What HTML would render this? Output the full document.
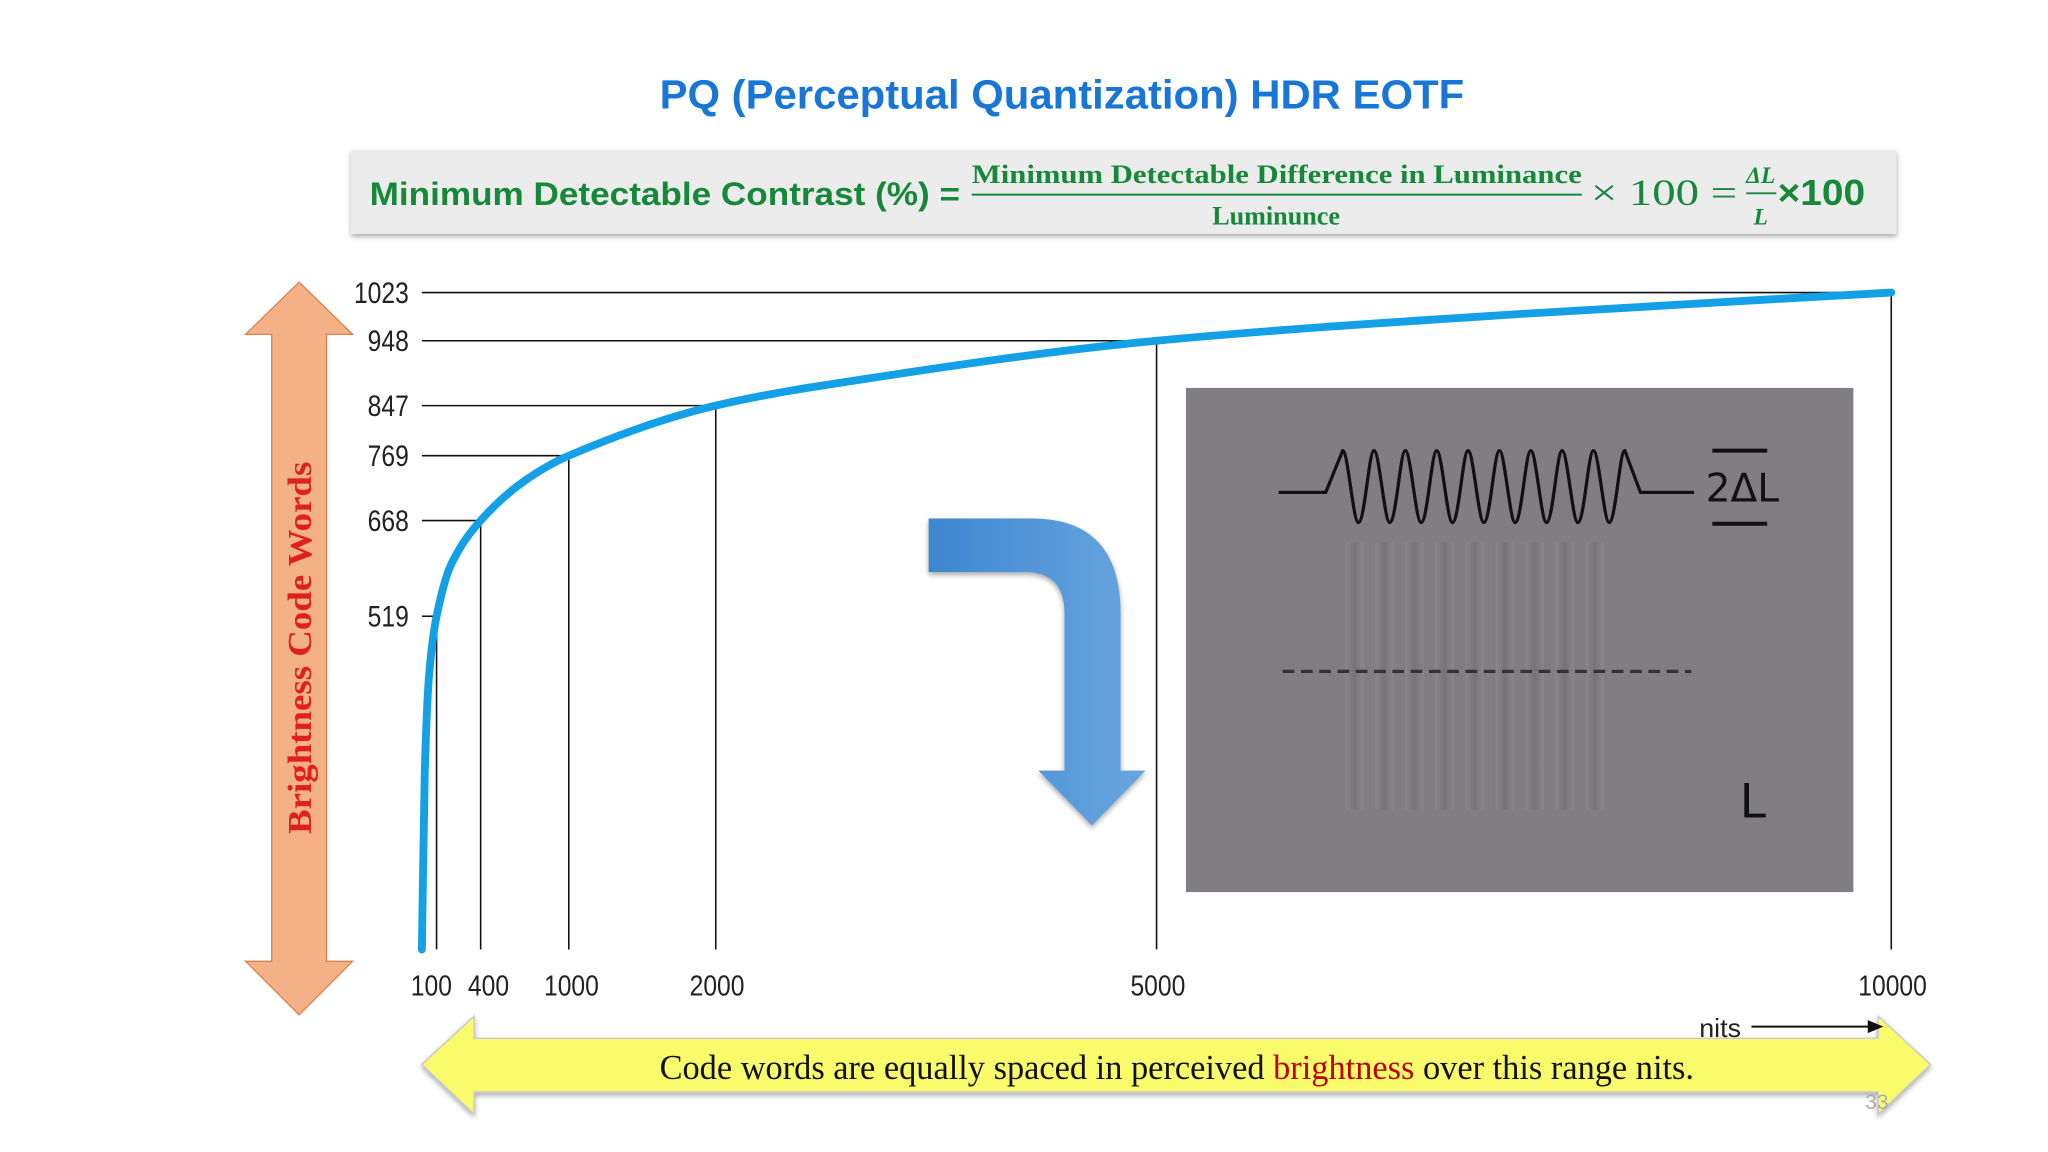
<!DOCTYPE html>
<html><head><meta charset="utf-8"><style>
html,body{margin:0;padding:0;background:#fff;}
svg{display:block;}
</style></head><body>
<svg id="chart" width="2048" height="1152" viewBox="0 0 2048 1152" xmlns="http://www.w3.org/2000/svg">
<defs>
<linearGradient id="blueG" x1="0" x2="1" y1="0" y2="0"><stop offset="0" stop-color="#3d87cf"/><stop offset="1" stop-color="#6aa6e0"/></linearGradient>
<filter id="sh" x="-5%" y="-20%" width="110%" height="150%"><feDropShadow dx="0" dy="2" stdDeviation="2" flood-color="#000" flood-opacity="0.35"/></filter>
<linearGradient id="stripe" x1="0" x2="1"><stop offset="0" stop-color="#8a888c"/><stop offset="0.5" stop-color="#747276"/><stop offset="1" stop-color="#8a888c"/></linearGradient>
</defs>
<g transform="scale(1.30612)" id="root">
<text x="505" y="83" textLength="616" lengthAdjust="spacingAndGlyphs" font-family="Liberation Sans, sans-serif" font-weight="bold" font-size="31" fill="#1877d6">PQ (Perceptual Quantization) HDR EOTF</text>
<g>
<rect x="269" y="115" width="1183" height="64" fill="#ececec" filter="url(#sh)"/>
<text x="283" y="157" textLength="452" lengthAdjust="spacingAndGlyphs" font-family="Liberation Sans, sans-serif" font-weight="bold" font-size="25" fill="#16883a">Minimum Detectable Contrast (%) =</text>
<text x="744" y="140" textLength="467" lengthAdjust="spacingAndGlyphs" font-family="Liberation Serif, serif" font-weight="bold" font-size="20" fill="#16883a">Minimum Detectable Difference in Luminance</text>
<line x1="744" y1="149" x2="1211" y2="149" stroke="#16883a" stroke-width="1.5"/>
<text x="977" y="172" text-anchor="middle" font-family="Liberation Serif, serif" font-weight="bold" font-size="20" fill="#16883a">Luminunce</text>
<text x="1218" y="157" textLength="112" lengthAdjust="spacingAndGlyphs" font-family="Liberation Serif, serif" font-size="28" fill="#16883a">× 100 =</text>
<text x="1348" y="140" text-anchor="middle" font-family="Liberation Serif, serif" font-style="italic" font-weight="bold" font-size="18" fill="#16883a">ΔL</text>
<line x1="1337" y1="148" x2="1360" y2="148" stroke="#16883a" stroke-width="1.5"/>
<text x="1348" y="172" text-anchor="middle" font-family="Liberation Serif, serif" font-style="italic" font-weight="bold" font-size="18" fill="#16883a">L</text>
<text x="1361" y="157" textLength="67" lengthAdjust="spacingAndGlyphs" font-family="Liberation Sans, sans-serif" font-weight="bold" font-size="28" fill="#16883a">×100</text>
</g>
<g>
<polygon points="229,216 270,256 250,256 250,736 270,736 229,777 188,736 208,736 208,256 188,256" fill="#f3b185" stroke="#d8834e" stroke-width="1"/>
<text transform="translate(238,496) rotate(-90)" text-anchor="middle" textLength="285" lengthAdjust="spacingAndGlyphs" font-family="Liberation Serif, serif" font-weight="bold" font-size="26" fill="#e0201a">Brightness Code Words</text>
</g>
<g>
<rect x="908" y="297" width="511" height="386" fill="#807e82"/>
<g id="stripes"></g>
<path d="M979,377 L1015,377 L1028,345 C1032,345 1036,400 1040,400 C1045,400 1048,345 1052,345 C1056,345 1060,400 1064,400 C1069,400 1072,345 1076,345 C1080,345 1084,400 1088,400 C1093,400 1096,345 1100,345 C1104,345 1108,400 1112,400 C1117,400 1120,345 1124,345 C1128,345 1132,400 1136,400 C1141,400 1144,345 1148,345 C1152,345 1156,400 1160,400 C1165,400 1168,345 1172,345 C1176,345 1180,400 1184,400 C1189,400 1192,345 1196,345 C1200,345 1204,400 1208,400 C1213,400 1216,345 1220,345 C1224,345 1228,400 1232,400 C1237,400 1240,345 1244,345 L1256,377 L1297,377" fill="none" stroke="#111" stroke-width="2.5"/>
<line x1="1311" y1="345" x2="1353" y2="345" stroke="#111" stroke-width="3"/>
<line x1="1311" y1="401" x2="1353" y2="401" stroke="#111" stroke-width="3"/>
<text x="1334" y="384" text-anchor="middle" font-family="DejaVu Sans, sans-serif" font-size="30" fill="#111">2ΔL</text>
<line x1="982" y1="514" x2="1295" y2="514" stroke="#333" stroke-width="2.5" stroke-dasharray="9,5"/>
<text x="1342" y="626" text-anchor="middle" font-family="DejaVu Sans, sans-serif" font-size="36" fill="#111">L</text>
</g>
<path d="M711,397 L790,397 Q858,397 858,470 L858,590 L877,590 L836,632 L795,590 L815,590 L815,470 Q815,438 785,438 L711,438 Z" fill="url(#blueG)" filter="url(#sh)"/>
<g id="plot"></g>
<g>
<polygon points="323,815 363,778 363,795 1438,795 1438,778 1478,815 1438,853 1438,836 363,836 363,853" fill="#fafb6a" stroke="#c8c8c8" stroke-width="1" filter="url(#sh)"/>
<text x="505" y="826" textLength="792" lengthAdjust="spacingAndGlyphs" font-family="Liberation Serif, serif" font-size="27" fill="#111">Code words are equally spaced in perceived <tspan fill="#c00000">brightness</tspan> over this range nits.</text>
</g>
<text x="1317" y="794" text-anchor="middle" textLength="32" lengthAdjust="spacingAndGlyphs" font-family="Liberation Sans, sans-serif" font-size="20" fill="#222">nits</text>
<line x1="1341" y1="786" x2="1434" y2="786" stroke="#111" stroke-width="1.5"/>
<polygon points="1442,786 1430,781 1430,791" fill="#111"/>
<text x="1437" y="849" text-anchor="middle" font-family="Liberation Sans, sans-serif" font-size="16" fill="#aaa">33</text>
</g>
</svg>
<script>
const nits = [0, 20, 50, 100, 200, 400, 700, 1000, 2000, 3000, 5000, 7500, 10000];
const codes = [0, 280, 430, 519, 600, 668, 730, 769, 847, 888, 948, 990, 1023];
const yTicks = [519, 668, 769, 847, 948, 1023];
const yTickNits = [100, 400, 1000, 2000, 5000, 10000];
const xTicks = [100, 400, 1000, 2000, 5000, 10000];
const xTickLabels = ['100', '400', '1000', '2000', '5000', '10000'];

const NS = 'http://www.w3.org/2000/svg';
const X0 = 323, X1 = 1448, Y0 = 727, Y1 = 224;
function xs(v){ return X0 + (X1 - X0) * v / 10000; }
function ys(v){ return Y0 - (Y0 - Y1) * v / 1023; }
function mk(tag, attrs, parent){ const e = document.createElementNS(NS, tag); for (const k in attrs) e.setAttribute(k, attrs[k]); parent.appendChild(e); return e; }
const plot = document.getElementById('plot');
const stripes = document.getElementById('stripes');
for (let i = 0; i < 9; i++) {
  const s = mk('rect', {x: 1030 + i*23, y: 415, width: 14, height: 205, fill: 'url(#stripe)', opacity: 0.9}, stripes);
  
  
}
yTicks.forEach((t, i) => {
  const y = ys(t), xe = xs(yTickNits[i]);
  const h = mk('line', {x1: X0, y1: y, x2: xe, y2: y, stroke: '#111', 'stroke-width': 1.2}, plot);
  
  
  const v = mk('line', {x1: xe, y1: y, x2: xe, y2: Y0, stroke: '#111', 'stroke-width': 1.2}, plot);
  
  
  const lb = mk('text', {x: 313, y: y + 8, 'text-anchor': 'end', 'font-family': 'Liberation Sans, sans-serif', 'font-size': 23, fill: '#222', textLength: String(t).length * 10.5, lengthAdjust: 'spacingAndGlyphs'}, plot);
  lb.textContent = String(t);
  
  
});
xTicks.forEach((t, i) => {
  const off = i === 0 ? -4 : (i === 1 ? 6 : (i === 2 ? 2 : 1));
  const lb = mk('text', {x: xs(t) + off, y: 762, 'text-anchor': 'middle', 'font-family': 'Liberation Sans, sans-serif', 'font-size': 22, fill: '#222', textLength: xTickLabels[i].length * 10.5, lengthAdjust: 'spacingAndGlyphs'}, plot);
  lb.textContent = xTickLabels[i];
  
  
});
const px = nits.map(xs), py = codes.map(ys), n = px.length;
const d = [], m = [];
for (let i = 0; i < n-1; i++) d.push((py[i+1]-py[i])/(px[i+1]-px[i]));
m.push(d[0]);
for (let i = 1; i < n-1; i++) m.push(d[i-1]*d[i] <= 0 ? 0 : 2/(1/d[i-1]+1/d[i]));
m.push(d[n-2]);
let path = 'M' + px[0] + ',' + py[0];
for (let i = 0; i < n-1; i++) {
  const h = (px[i+1]-px[i])/3;
  path += ' C' + (px[i]+h) + ',' + (py[i]+m[i]*h) + ' ' + (px[i+1]-h) + ',' + (py[i+1]-m[i+1]*h) + ' ' + px[i+1] + ',' + py[i+1];
}
const curve = mk('path', {d: path, fill: 'none', stroke: '#14a0e6', 'stroke-width': 6, 'stroke-linecap': 'round'}, plot);


</script>
</body></html>
